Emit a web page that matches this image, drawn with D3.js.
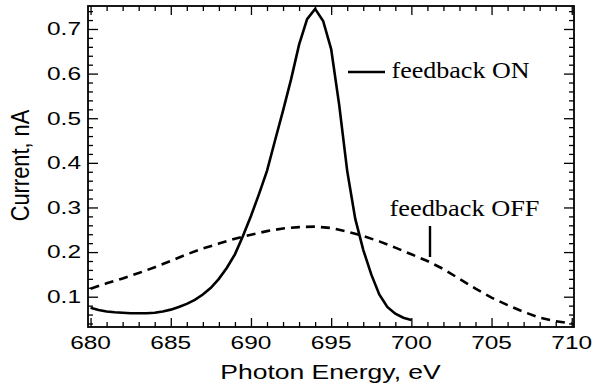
<!DOCTYPE html>
<html>
<head>
<meta charset="utf-8">
<script src="https://cdn.jsdelivr.net/npm/d3@7"></script>
<style>
  body { margin: 0; background: #fff; }
  svg { display: block; }
</style>
</head>
<body>
<script>
// values
var energyOn = [680, 680.5, 681, 681.5, 682, 682.5, 683, 683.5, 684, 684.5,
                685, 685.5, 686, 686.5, 687, 687.5, 688, 688.5, 689, 689.5,
                690, 690.5, 691, 691.5, 692, 692.5, 693, 693.5, 694, 694.5,
                695, 695.5, 696, 696.5, 697, 697.5, 698, 698.5, 699, 699.5, 700];
var currentOn = [0.075, 0.070, 0.067, 0.065, 0.064, 0.063, 0.063, 0.063, 0.064, 0.067,
                 0.071, 0.077, 0.084, 0.093, 0.105, 0.120, 0.140, 0.165, 0.195, 0.236,
                 0.281, 0.330, 0.382, 0.450, 0.517, 0.587, 0.665, 0.722, 0.745, 0.718,
                 0.655, 0.530, 0.382, 0.275, 0.205, 0.150, 0.105, 0.077, 0.062, 0.053, 0.048];

var energyOff = [680, 681, 682, 683, 684, 685, 686, 687, 688, 689, 690,
                 691, 692, 693, 694, 695, 696, 697, 698, 699, 700,
                 701, 702, 703, 704, 705, 706, 707, 708, 709, 710];
var currentOff = [0.118, 0.130, 0.141, 0.153, 0.166, 0.180, 0.195, 0.208, 0.219, 0.230, 0.239,
                  0.247, 0.253, 0.256, 0.257, 0.254, 0.246, 0.236, 0.224, 0.210, 0.195,
                  0.180, 0.162, 0.140, 0.118, 0.098, 0.081, 0.066, 0.053, 0.045, 0.040];

var xTicks = [680, 685, 690, 695, 700, 705, 710];
var yTicks = [0.1, 0.2, 0.3, 0.4, 0.5, 0.6, 0.7];
var xTitle = "Photon Energy, eV";
var yTitle = "Current, nA";
var labelOn = "feedback ON";
var labelOff = "feedback OFF";

var width = 595, height = 387;
var plot = {left: 88, right: 574, top: 6, bottom: 327};
var sx = 1.36; // the original figure is stretched sideways

var svg = d3.select("body").append("svg")
  .attr("width", width)
  .attr("height", height);

var x = d3.scaleLinear().domain([679.84, 710.14]).range([plot.left, plot.right]);
var y = d3.scaleLinear().domain([0.0321, 0.7515]).range([plot.bottom, plot.top]);

var xMinor = d3.range(680, 711, 1).filter(function(d) { return d % 5 !== 0; });
var yMinor = d3.range(4, 75, 2).filter(function(d) { return d % 10 !== 0; })
  .map(function(d) { return d / 100; });

// ---- ticks, all pointing inwards
function tickGroup(axis, tx, ty) {
  var g = svg.append("g")
    .attr("transform", "translate(" + tx + "," + ty + ")")
    .call(axis);
  g.select(".domain").remove();
  g.selectAll("line").attr("stroke", "#000").attr("stroke-width", 1.3);
  return g;
}

tickGroup(d3.axisTop(x).tickValues(xTicks).tickSize(9).tickFormat(""), 0, plot.bottom);
tickGroup(d3.axisTop(x).tickValues(xMinor).tickSize(5).tickFormat(""), 0, plot.bottom);
tickGroup(d3.axisBottom(x).tickValues(xTicks).tickSize(9).tickFormat(""), 0, plot.top);
tickGroup(d3.axisBottom(x).tickValues(xMinor).tickSize(5).tickFormat(""), 0, plot.top);

tickGroup(d3.axisRight(y).tickValues(yTicks).tickSize(10).tickFormat(""), plot.left, 0);
tickGroup(d3.axisRight(y).tickValues(yMinor).tickSize(5).tickFormat(""), plot.left, 0);
tickGroup(d3.axisLeft(y).tickValues(yTicks).tickSize(10).tickFormat(""), plot.right, 0);
tickGroup(d3.axisLeft(y).tickValues(yMinor).tickSize(5).tickFormat(""), plot.right, 0);

// ---- tick labels
var sans = "'Liberation Sans', Arial, Helvetica, sans-serif";
var serif = "'Liberation Serif', 'Times New Roman', serif";

svg.append("g").selectAll("text")
  .data(xTicks)
  .enter().append("text")
    .attr("transform", function(d) { return "translate(" + x(d) + ",349) scale(" + sx + ",1)"; })
    .attr("text-anchor", "middle")
    .attr("font-family", sans)
    .attr("font-size", 18)
    .text(function(d) { return d; });

svg.append("g").selectAll("text")
  .data(yTicks)
  .enter().append("text")
    .attr("transform", function(d) { return "translate(81," + (y(d) + 6.4) + ") scale(" + sx + ",1)"; })
    .attr("text-anchor", "end")
    .attr("font-family", sans)
    .attr("font-size", 18)
    .text(function(d) { return d3.format(".1f")(d); });

// ---- axis titles
svg.append("text")
  .attr("transform", "translate(330.5,379) scale(" + sx + ",1)")
  .attr("text-anchor", "middle")
  .attr("font-family", sans)
  .attr("font-size", 19.5)
  .text(xTitle);

svg.append("text")
  .attr("transform", "translate(28.5,165.5) rotate(-90) scale(1.12," + sx + ")")
  .attr("text-anchor", "middle")
  .attr("font-family", sans)
  .attr("font-size", 19.5)
  .text(yTitle);

// ---- curves
var line = d3.line()
  .x(function(d) { return x(d[0]); })
  .y(function(d) { return y(d[1]); });

svg.append("path")
  .attr("d", line(d3.zip(energyOff, currentOff)))
  .attr("fill", "none")
  .attr("stroke", "#000")
  .attr("stroke-width", 2.6)
  .attr("stroke-dasharray", "9,6");

svg.append("path")
  .attr("d", line(d3.zip(energyOn, currentOn)))
  .attr("fill", "none")
  .attr("stroke", "#000")
  .attr("stroke-width", 2.6)
  .attr("stroke-linejoin", "miter");

// ---- frame
svg.append("rect")
  .attr("x", plot.left)
  .attr("y", plot.top)
  .attr("width", plot.right - plot.left)
  .attr("height", plot.bottom - plot.top)
  .attr("fill", "none")
  .attr("stroke", "#000")
  .attr("stroke-width", 1.8);

// ---- annotations
svg.append("line")
  .attr("x1", 348).attr("x2", 385)
  .attr("y1", 72).attr("y2", 72)
  .attr("stroke", "#000").attr("stroke-width", 2.6);

svg.append("text")
  .attr("x", 391.5).attr("y", 78)
  .attr("font-family", serif)
  .attr("font-size", 24)
  .attr("textLength", 138)
  .attr("lengthAdjust", "spacingAndGlyphs")
  .text(labelOn);

svg.append("text")
  .attr("x", 389.5).attr("y", 216)
  .attr("font-family", serif)
  .attr("font-size", 24)
  .attr("textLength", 150)
  .attr("lengthAdjust", "spacingAndGlyphs")
  .text(labelOff);

svg.append("line")
  .attr("x1", 430).attr("x2", 430)
  .attr("y1", 226).attr("y2", 257)
  .attr("stroke", "#000").attr("stroke-width", 2.4);
</script>
</body>
</html>
